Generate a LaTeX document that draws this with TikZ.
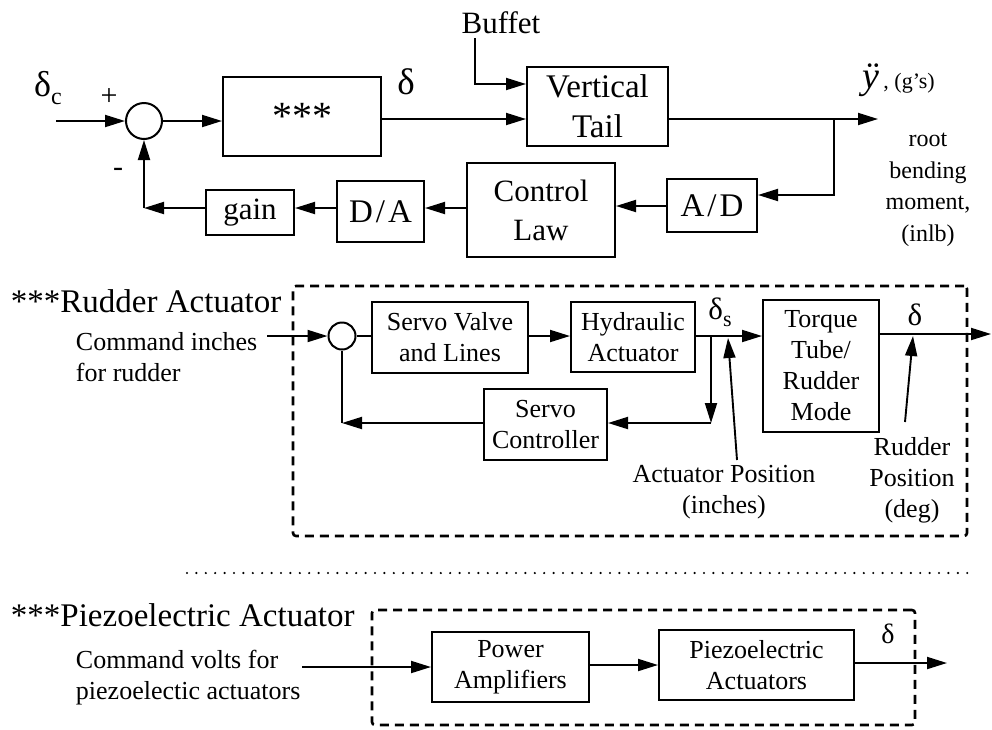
\documentclass[tikz,border=0pt]{standalone}
\usepackage{fontspec}
\setmainfont{Liberation Serif}
\usetikzlibrary{arrows.meta,calc}
\begin{document}
\begin{tikzpicture}[x=1pt,y=-1pt,
  line width=1.9pt,
  >={Triangle[length=20pt,width=12pt]},
  blk/.style={draw,line width=2pt,rectangle,align=center,inner sep=0pt},
  ftop/.style={font=\fontsize{31}{39}\selectfont},
  fmid/.style={font=\fontsize{26}{31}\selectfont},
  sumc/.style={draw,circle,line width=2pt,inner sep=0pt},
  dbox/.style={draw,line width=2.6pt,dash pattern=on 9pt off 6pt,rounded corners=3pt},
  lbl/.style={inner sep=0pt,align=center},
  dotln/.style={line width=2.4pt,line cap=round,dash pattern=on 0pt off 9.4pt},
]
\useasboundingbox (0,0) rectangle (992,729);

% ---------------- top loop ----------------
\node[sumc,minimum size=36pt] (s1) at (144,121) {};
\node[blk,font=\fontsize{40}{40}\selectfont,minimum width=158pt,minimum height=79pt] (stars) at (302,116.5) {\raisebox{-8pt}{***}};
\node[blk,font=\fontsize{33}{40}\selectfont,minimum width=141pt,minimum height=79pt] (vt) at (597.5,106.5) {Vertical\\Tail};
\node[blk,font=\fontsize{33}{40}\selectfont,minimum width=90pt,minimum height=53pt] (ad) at (712,205.5) {A\kern3pt/\kern3pt D};
\node[blk,ftop,minimum width=148pt,minimum height=94pt] (cl) at (541,210) {Control\\Law};
\node[blk,font=\fontsize{33}{40}\selectfont,minimum width=87pt,minimum height=61pt] (da) at (380.5,211.5) {D\kern3pt/\kern3pt A};
\node[blk,ftop,minimum width=88pt,minimum height=45pt] (gain) at (250,212.5) {gain};

\node[lbl,ftop] (buf) at (501,23) {Buffet};
\node[lbl] (dc) at (48,88) {\fontsize{36}{36}\selectfont δ\raisebox{-8pt}{\fontsize{24}{24}\selectfont c}};
\node[lbl,font=\fontsize{30}{30}\selectfont] (plus) at (109,97) {+};
\node[lbl,font=\fontsize{30}{30}\selectfont] (minus) at (118,172) {-};
\node[lbl,font=\fontsize{37}{37}\selectfont] (d1) at (406,82) {δ};
\node[lbl,anchor=base west] (yy) at (862,88) {{\fontsize{38}{38}\selectfont\itshape ÿ}\fontsize{22}{22}\selectfont\,, (g's)};
\node[lbl,font=\fontsize{24}{31.5}\selectfont] (rb) at (928,190) {root\\bending\\moment,\\(inlb)};

\coordinate (in1) at (56,121);
\coordinate (b0) at (475,38);
\coordinate (b1) at (475,84);
\coordinate (yout) at (878,119);
\coordinate (br1) at (834,119);
\coordinate (fb) at (144,208);

\draw[->] (in1) -- (s1.west);
\draw[->] (s1.east) -- (stars.west |- s1.east);
\draw[->] (stars.east |- 0,119) -- (vt.west |- 0,119);
\draw[->] (b0) -- (b1) -- (vt.west |- b1);
\draw[->] (vt.east |- 0,119) -- (yout);
\draw[->] (br1) |- (ad.east |- 0,195);
\draw[->] (ad.west |- 0,206) -- (cl.east |- 0,206);
\draw[->] (cl.west |- 0,208) -- (da.east |- 0,208);
\draw[->] (da.west |- 0,208) -- (gain.east |- 0,208);
\draw[->] (gain.west |- 0,208) -- (fb);
\draw[->] (fb) -- (s1.south);

% ---------------- rudder actuator ----------------
\node[lbl,anchor=base west,font=\fontsize{33}{33}\selectfont] (ra) at (10,312) {***Rudder Actuator};
\node[lbl,anchor=west,align=left,fmid] (ci) at (75,357) {Command inches\\for rudder};
\node[dbox,minimum width=674pt,minimum height=250pt] (rbox) at (630,411) {};

\node[sumc,minimum size=27pt] (s2) at (342,336) {};
\node[blk,fmid,minimum width=156pt,minimum height=71pt] (sv) at (450,337.5) {Servo Valve\\and Lines};
\node[blk,fmid,minimum width=124pt,minimum height=70pt] (ha) at (633,337) {Hydraulic\\Actuator};
\node[blk,fmid,minimum width=116pt,minimum height=132pt] (tt) at (821,366) {Torque\\Tube/\\Rudder\\Mode};
\node[blk,fmid,minimum width=123pt,minimum height=71pt] (sc) at (545.5,424.5) {Servo\\Controller};

\node[lbl] (ds) at (720,312) {\fontsize{31}{31}\selectfont δ\raisebox{-7pt}{\fontsize{22}{22}\selectfont s}};
\node[lbl,font=\fontsize{31}{31}\selectfont] (d2) at (915,315) {δ};
\node[lbl,fmid] (apl) at (724,492) {Actuator Position\\(inches)};
\node[lbl,fmid] (rpl) at (912,480) {Rudder\\Position\\(deg)};

\coordinate (cin) at (267,336);
\coordinate (br2) at (711,336);
\coordinate (br2d) at (711,423);
\coordinate (fb2) at (342,423);
\coordinate (rout) at (991,334);
\coordinate (ap0) at (737,460);
\coordinate (ap1) at (728,338);
\coordinate (rp0) at (905,422);
\coordinate (rp1) at (913,336);

\draw[->] (cin) -- (s2.west);
\draw (s2.east) -- (sv.west |- s2.east);
\draw[->] (sv.east |- 0,336) -- (ha.west |- 0,336);
\draw[->] (ha.east |- 0,336) -- (tt.west |- 0,336);
\draw[->] (br2) -- (br2d);
\draw[->] (br2d) -- (sc.east |- br2d);
\draw[->] (sc.west |- fb2) -- (fb2);
\draw (fb2) -- (s2.south);
\draw[->] (tt.east |- rout) -- (rout);
\draw[->] (ap0) -- (ap1);
\draw[->] (rp0) -- (rp1);

% ---------------- separator ----------------
\coordinate (dl0) at (187,573);
\coordinate (dl1) at (972,573);
\draw[dotln] (dl0) -- (dl1);

% ---------------- piezoelectric actuator ----------------
\node[lbl,anchor=base west,font=\fontsize{33}{33}\selectfont] (pa) at (10,626) {***Piezoelectric Actuator};
\node[lbl,anchor=west,align=left,fmid] (cv) at (75,678) {Command volts for\\piezoelectic actuators};
\node[dbox,minimum width=543pt,minimum height=115pt] (pbox) at (643.5,667.5) {};
\node[blk,fmid,minimum width=157pt,minimum height=70pt] (pamp) at (510.5,667) {Power\\Amplifiers};
\node[blk,fmid,minimum width=195pt,minimum height=70pt] (pact) at (756.5,665) {Piezoelectric\\Actuators};
\node[lbl,font=\fontsize{28}{28}\selectfont] (d3) at (888,634) {δ};

\coordinate (pin) at (302,667);
\coordinate (pout) at (947,663);
\draw[->] (pin) -- (pamp.west |- pin);
\draw[->] (pamp.east |- 0,665) -- (pact.west |- 0,665);
\draw[->] (pact.east |- pout) -- (pout);
\end{tikzpicture}
\end{document}
